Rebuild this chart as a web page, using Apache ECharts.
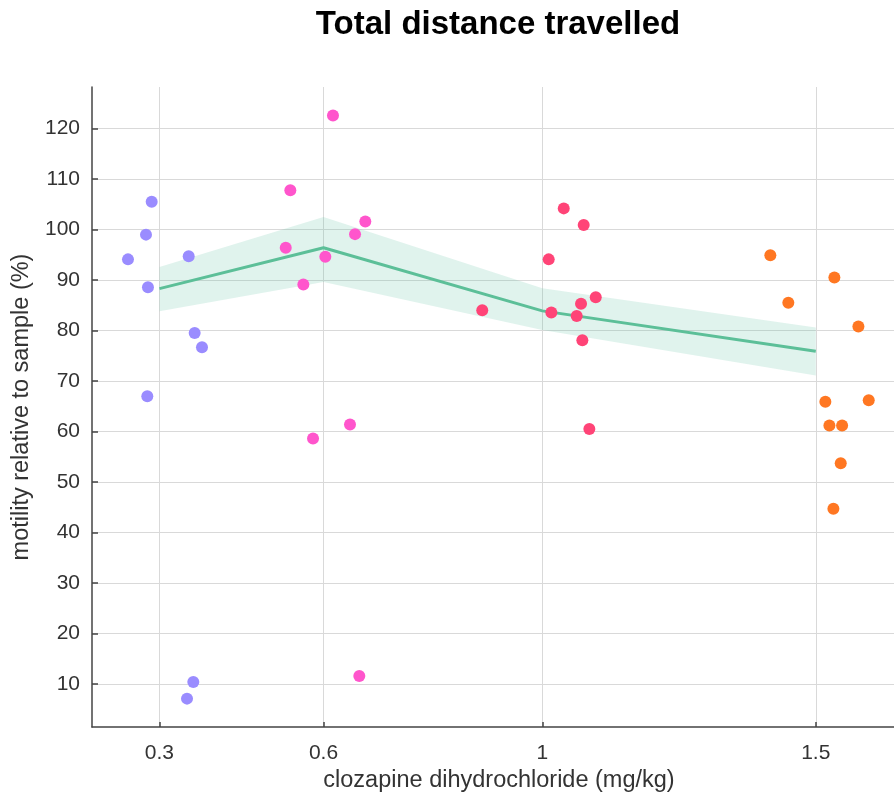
<!DOCTYPE html>
<html>
<head>
<meta charset="utf-8">
<script src="https://cdn.jsdelivr.net/npm/echarts@6/dist/echarts.min.js"></script>
<style>
  html, body { margin: 0; padding: 0; background: #fff; }
  #chart { width: 894px; height: 798px; }
</style>
</head>
<body>
<div id="chart"></div>
<script>
// Dose ticks (mg/kg) and y-axis tick values
const doseTicks = [0.3, 0.6, 1, 1.5];
const yTicks = [10, 20, 30, 40, 50, 60, 70, 80, 90, 100, 110, 120];

// Individual samples, jittered around each dose: [dose position, motility %]
const dose03 = [[0.2425, 94.1], [0.2754, 99.0], [0.2858, 105.5], [0.2790, 88.6], [0.3535, 94.7],
                [0.3644, 79.5], [0.3778, 76.7], [0.2778, 67.0], [0.3619, 10.4], [0.3504, 7.1]];
const dose06 = [[0.6173, 122.6], [0.5393, 107.8], [0.5309, 96.4], [0.5631, 89.1], [0.6033, 94.6],
                [0.6576, 99.1], [0.6764, 101.6], [0.5808, 58.6], [0.6484, 61.4], [0.6654, 11.6]];
const dose10 = [[0.8902, 84.0], [1.0117, 94.1], [1.0392, 104.2], [1.0757, 100.9], [1.0165, 83.6],
                [1.0629, 82.9], [1.0708, 85.3], [1.0977, 86.6], [1.0732, 78.1], [1.0860, 60.5]];
const dose15 = [[1.4169, 94.9], [1.5340, 90.5], [1.4498, 85.5], [1.5779, 80.8], [1.5175, 65.9],
                [1.5968, 66.2], [1.5249, 61.2], [1.5481, 61.2], [1.5456, 53.7], [1.5322, 44.7]];

// Group estimate and its confidence band
const estimate = [88.3, 96.4, 83.9, 75.9];
const bandLow = [83.8, 89.6, 80.1, 71.1];
const bandHigh = [92.6, 102.5, 88.4, 80.6];

const FONT = 'Liberation Sans, Arial, sans-serif';
const lineColor = '#5cbf98';

const chart = echarts.init(document.getElementById('chart'), null, { renderer: 'canvas' });

function scatter(data, color) {
  return {
    type: 'scatter',
    data: data,
    symbol: 'circle',
    symbolSize: 12,
    itemStyle: { color: color, opacity: 1 },
    z: 5
  };
}

chart.setOption({
  animation: false,
  backgroundColor: '#ffffff',
  title: {
    text: 'Total distance travelled',
    left: 493,
    textAlign: 'center',
    top: 3,
    textStyle: { fontFamily: FONT, fontSize: 33, fontWeight: 'bold', color: '#000' }
  },
  grid: { left: 92, right: 0, top: 87, bottom: 71, containLabel: false },
  xAxis: {
    type: 'value',
    min: 0.1767,
    max: 1.643,
    name: 'clozapine dihydrochloride (mg/kg)',
    nameLocation: 'middle',
    nameGap: 42,
    nameTextStyle: { fontFamily: FONT, fontSize: 23.5, color: '#333', padding: [0, 0, 0, 12] },
    axisLine: { show: true, onZero: false, lineStyle: { color: '#444', width: 1.5 } },
    axisTick: { show: true, inside: true, length: 5, customValues: doseTicks, lineStyle: { color: '#444', width: 1.5 } },
    axisLabel: { customValues: doseTicks, fontFamily: FONT, fontSize: 21, color: '#333', margin: 16,
                 formatter: v => String(v) },
    splitLine: { show: true, lineStyle: { color: '#d9d9d9', width: 1 } }
  },
  yAxis: {
    type: 'value',
    min: 1.48,
    max: 128.24,
    name: 'motility relative to sample (%)',
    nameLocation: 'middle',
    nameGap: 58,
    nameRotate: 90,
    nameTextStyle: { fontFamily: FONT, fontSize: 23.5, color: '#333' },
    axisLine: { show: true, onZero: false, lineStyle: { color: '#444', width: 1.5 } },
    axisTick: { show: true, inside: true, length: 6, customValues: yTicks, lineStyle: { color: '#444', width: 1.5 } },
    axisLabel: { customValues: yTicks, fontFamily: FONT, fontSize: 21, color: '#333', margin: 12 },
    splitLine: { show: true, lineStyle: { color: '#d9d9d9', width: 1 } }
  },
  series: [
    {
      // confidence band polygon
      type: 'custom',
      z: 1,
      silent: true,
      data: [0],
      renderItem: function (params, api) {
        const pts = [];
        for (let i = 0; i < doseTicks.length; i++) pts.push(api.coord([doseTicks[i], bandHigh[i]]));
        for (let i = doseTicks.length - 1; i >= 0; i--) pts.push(api.coord([doseTicks[i], bandLow[i]]));
        return {
          type: 'polygon',
          shape: { points: pts },
          style: { fill: 'rgba(102, 194, 165, 0.2)', stroke: 'none' }
        };
      }
    },
    {
      type: 'line',
      data: doseTicks.map((d, i) => [d, estimate[i]]),
      symbol: 'none',
      lineStyle: { color: lineColor, width: 3 },
      z: 3
    },
    scatter(dose03, '#9a8cff'),
    scatter(dose06, '#ff55cc'),
    scatter(dose10, '#ff4477'),
    scatter(dose15, '#ff7722')
  ]
});
</script>
</body>
</html>
